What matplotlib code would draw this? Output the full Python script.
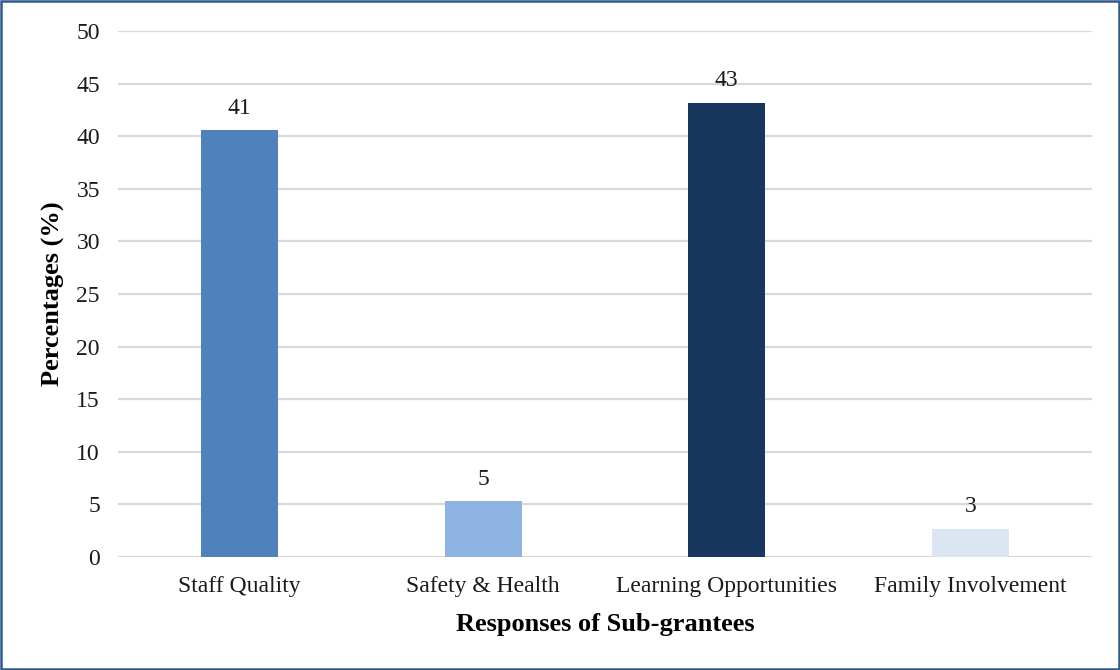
import matplotlib
matplotlib.use("Agg")
import matplotlib.pyplot as plt
from matplotlib.patches import Rectangle

categories = ["Staff Quality", "Safety & Health", "Learning Opportunities", "Family Involvement"]
percentages = [40.6, 5.3, 43.2, 2.7]
bar_colors = ["#4F81BD", "#8EB4E3", "#17375E", "#DCE6F2"]
y_ticks = [0, 5, 10, 15, 20, 25, 30, 35, 40, 45, 50]

plt.rcParams["font.family"] = ["Liberation Serif", "DejaVu Serif"]

fig = plt.figure(figsize=(11.2, 6.7), dpi=100)
ax = fig.add_axes([118 / 1120, 1 - 557 / 670, (1092 - 118) / 1120, (557 - 31) / 670])

x = range(len(categories))
bars = ax.bar(x, percentages, width=0.316, color=bar_colors, zorder=3)

for xi, v in zip(x, percentages):
    ax.annotate(f"{round(v):d}", (xi, v), xytext=(0, 8), textcoords="offset points",
                ha="center", va="bottom", fontsize=17, color="#1a1a1a")

ax.set_xlim(-0.5, len(categories) - 0.5)
ax.set_ylim(0, 50)
ax.set_yticks(y_ticks)
ax.set_yticklabels([str(t) for t in y_ticks])
ax.set_xticks(list(x))
ax.set_xticklabels(categories)
ax.tick_params(axis="both", length=0, labelsize=17, colors="#1a1a1a")
ax.tick_params(axis="y", pad=13)
ax.tick_params(axis="x", pad=14)

ax.grid(axis="y", color="#D9D9D9", linewidth=1.6, zorder=0)
for s in ax.spines.values():
    s.set_visible(False)

ax.set_ylabel("Percentages (%)", fontsize=19, fontweight="bold", labelpad=8)
ax.set_xlabel("Responses of Sub-grantees", fontsize=19, fontweight="bold", labelpad=11)

fig.patches.append(Rectangle((0.001, 0.0015), 0.998, 0.997, transform=fig.transFigure,
                             fill=False, edgecolor="#2E5A8C", linewidth=1.8))

fig.savefig("out.png", dpi=100)
